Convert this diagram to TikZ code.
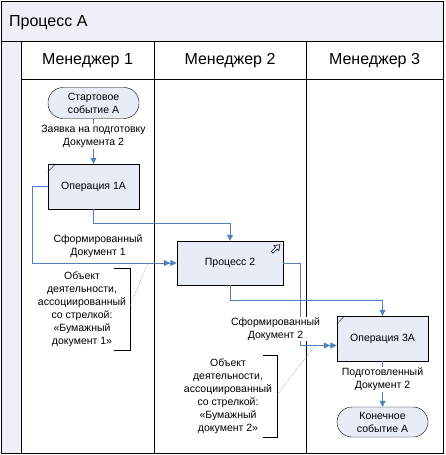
\documentclass[tikz,border=0pt]{standalone}
\usepackage{fontspec}
\setmainfont{Liberation Sans}
\usetikzlibrary{arrows.meta,positioning}

\definecolor{flowblue}{HTML}{4F81BD}
\definecolor{laneband}{HTML}{EEF0F8}
\definecolor{taskfill}{HTML}{E8ECF6}

\begin{document}
\begin{tikzpicture}[x=1pt, y=-1pt,
    every node/.style={font=\fontsize{10.5}{13}\selectfont, align=center},
    lanehead/.style={font=\fontsize{16}{19}\selectfont},
    task/.style={draw, fill=taskfill, minimum width=91pt, minimum height=45pt, inner sep=0pt},
    event/.style={draw, fill=taskfill, rounded corners=15pt, minimum width=91pt, minimum height=31pt, inner sep=0pt},
    flow/.style={draw=flowblue, line width=1pt, -{Triangle[width=6pt,length=6pt]}},
    msgflow/.style={draw=flowblue, line width=1pt, -{Triangle[width=6pt,length=6.5pt]Triangle[width=6pt,length=6.5pt]}},
    flowlabel/.style={fill=white, inner sep=1pt},
    assoc/.style={densely dotted, gray!80, line width=0.6pt},
]
\useasboundingbox (0,0) rectangle (445,455);

% pool and lanes
\fill[laneband] (1,1) rectangle (443,41);
\fill[laneband] (1,41) rectangle (21,453);
\draw (1,1) rectangle (443,453);
\draw (1,41) -- (443,41);
\draw (21,79) -- (443,79);
\draw (21,41) -- (21,453);
\draw (154,41) -- (154,453);
\draw (306,41) -- (306,453);

\node[lanehead, anchor=base west, inner sep=0pt] (pool) at (9,27) {Процесс А};
\node[lanehead, anchor=base] (lane1) at (87.5,64) {Менеджер 1};
\node[lanehead, anchor=base] (lane2) at (230,64) {Менеджер 2};
\node[lanehead, anchor=base] (lane3) at (374.5,64) {Менеджер 3};

% activities
\node[event] (start) at (93.5,103) {Стартовое\\событие А};
\node[task] (op1) at (93.5,186.5) {Операция 1А};
\node[task, minimum width=106pt, minimum height=44pt] (proc2) at (230,263) {Процесс 2};
\node[task] (op3) at (382.5,338.5) {Операция 3А};
\node[event, minimum height=30pt] (finish) at (382.5,422) {Конечное\\событие А};

\draw ([yshift=-8pt]op1.north west) -- ([xshift=8pt]op1.north west);
\draw ([yshift=-8pt]op3.north west) -- ([xshift=8pt]op3.north west);
\draw[line width=0.6pt, shift={(276,248.5)}, rotate=45]
  (-5.5,-1.2) -- (0.5,-1.2) -- (0.5,-3.5) -- (5.5,0) -- (0.5,3.5) -- (0.5,1.2) -- (-5.5,1.2) -- cycle;

% flows
\draw[flow] (start.south) -- node[flowlabel, pos=0.4] (req) {Заявка на подготовку\\Документа 2} (op1.north);
\draw[msgflow] (op1.west) -- ++(-15,0) |- (proc2.west);
\draw[flow] (op1.south) -- ++(0,14) -| (proc2.north);
\draw[msgflow] (proc2.east) -- ++(17,0) |- ([yshift=-7pt]op3.west);
\draw[flow] (proc2.south) -- ++(0,15) -| (op3.north);
\draw[flow] (op3.south) -- node[flowlabel, pos=0.4] (ready) {Подготовленный\\Документ 2} (finish.north);

\node (doc1) at (98,246) {Сформированный\\Документ 1};
\node[flowlabel] (doc2) at (275.5,329) {Сформированный\\Документ 2};

% data objects
\node (note1) at (82,309) {Объект\\деятельности,\\ассоциированный\\со стрелкой:\\«Бумажный\\документ 1»};
\draw (114,268) -- (130,268) -- (130,350) -- (114,350);
\coordinate (a1) at (148,263);
\draw[assoc] (130,306) -- (a1);

\node (note2) at (228,396) {Объект\\деятельности,\\ассоциированный\\со стрелкой:\\«Бумажный\\документ 2»};
\draw (263,355) -- (277,355) -- (277,437) -- (263,437);
\coordinate (a2) at (315,345.5);
\draw[assoc] (277,395) -- (a2);
\end{tikzpicture}
\end{document}
